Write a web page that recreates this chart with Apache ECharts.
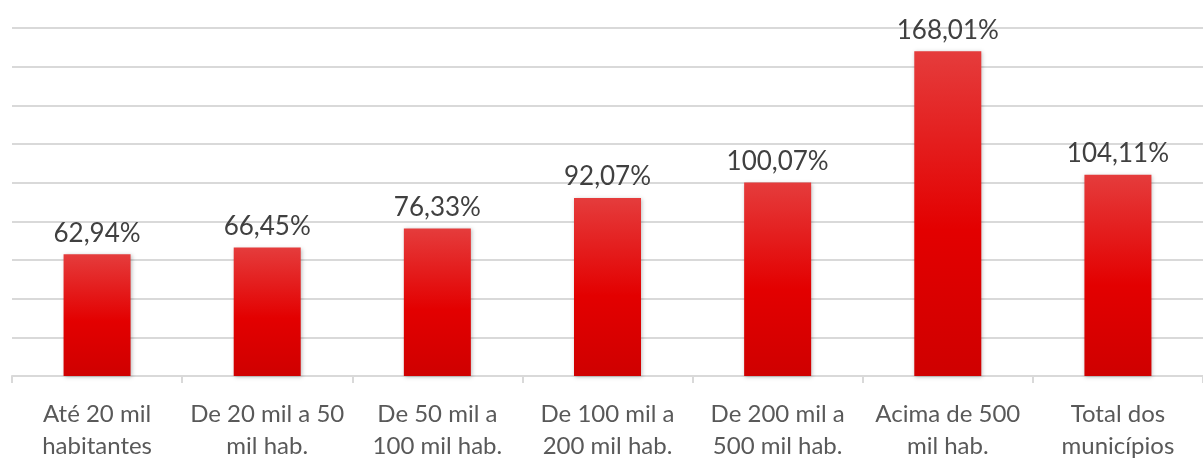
<!DOCTYPE html>
<html>
<head>
<meta charset="utf-8">
<script src="https://cdn.jsdelivr.net/npm/echarts@6/dist/echarts.min.js"></script>
<style>
    html, body { margin: 0; padding: 0; background: #fff; }
    #chart { width: 1203px; height: 462px; }
</style>
</head>
<body>
<div id="chart"></div>
<script>
// categorias (faixas de população)
var categorias = [
    'Até 20 mil\nhabitantes',
    'De 20 mil a 50\nmil hab.',
    'De 50 mil a\n100 mil hab.',
    'De 100 mil a\n200 mil hab.',
    'De 200 mil a\n500 mil hab.',
    'Acima de 500\nmil hab.',
    'Total dos\nmunicípios'
];
var valores = [62.94, 66.45, 76.33, 92.07, 100.07, 168.01, 104.11];
var eixoMin = 0;
var eixoMax = 180;
var eixoPasso = 20;

var fonte = 'Lato, "Open Sans", sans-serif';

var myChart = echarts.init(document.getElementById('chart'));

var option = {
    animation: false,
    grid: {
        left: 12,
        top: 28,
        width: 1199,
        height: 351,
        containLabel: false
    },
    xAxis: {
        type: 'category',
        data: categorias,
        axisLine: { lineStyle: { color: '#d9d9d9', width: 2 } },
        axisTick: { show: true, length: 7, alignWithLabel: false, lineStyle: { color: '#d9d9d9', width: 2 } },
        axisLabel: {
            interval: 0,
            margin: 22,
            color: '#595959',
            fontSize: 24,
            lineHeight: 32,
            fontFamily: fonte
        }
    },
    yAxis: {
        type: 'value',
        min: eixoMin,
        max: eixoMax,
        interval: eixoPasso,
        axisLine: { show: false },
        axisTick: { show: false },
        axisLabel: { show: false },
        splitLine: { lineStyle: { color: '#d9d9d9', width: 2 } }
    },
    series: [
        {
            type: 'bar',
            data: valores,
            barWidth: 67,
            itemStyle: {
                color: new echarts.graphic.LinearGradient(0, 0, 0, 1, [
                    { offset: 0, color: '#e53c3c' },
                    { offset: 0.55, color: '#e30000' },
                    { offset: 1, color: '#cf0000' }
                ]),
                shadowColor: 'rgba(0,0,0,0.25)',
                shadowBlur: 4,
                shadowOffsetX: 1,
                shadowOffsetY: 1
            },
            label: {
                show: true,
                position: 'top',
                distance: 8,
                color: '#404040',
                fontSize: 26,
                fontFamily: fonte,
                formatter: function (p) {
                    return p.value.toFixed(2).replace('.', ',') + '%';
                }
            }
        }
    ]
};

myChart.setOption(option);
</script>
</body>
</html>
